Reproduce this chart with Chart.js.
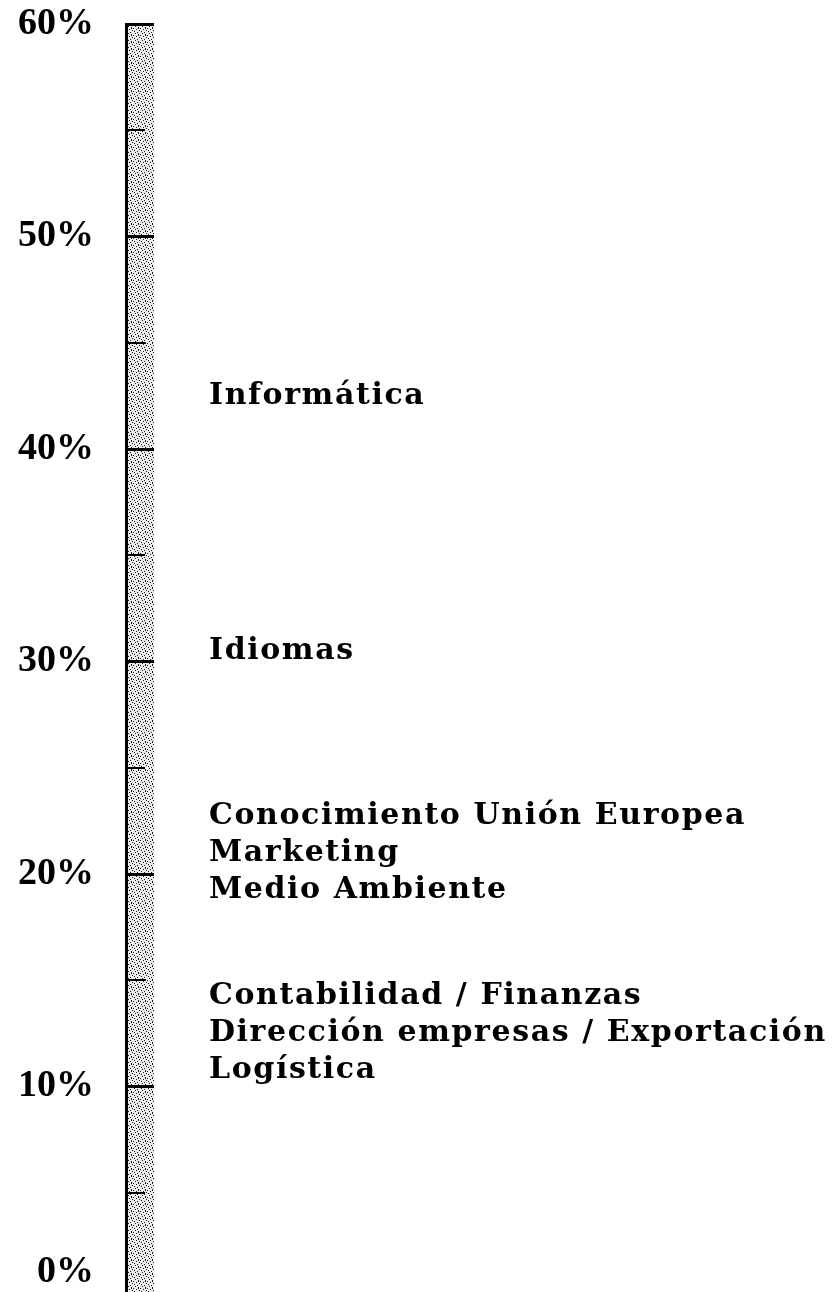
<!DOCTYPE html>
<html>
<head>
<meta charset="utf-8">
<script src="https://cdn.jsdelivr.net/npm/chart.js@4.4.0/dist/chart.umd.min.js"></script>
<style>
  html, body { margin: 0; padding: 0; background: #fff; overflow: hidden; }
  #chart { display: block; }
</style>
</head>
<body>
<canvas id="chart" width="833" height="1299"></canvas>
<script>
// topics and the share (%) they sit at on the scale
const topics = [
  'Informática',
  'Idiomas',
  'Conocimiento Unión Europea',
  'Marketing',
  'Medio Ambiente',
  'Contabilidad / Finanzas',
  'Dirección empresas / Exportación',
  'Logística'
];
const topicShare = [42.5, 30.5, 21, 21, 21, 12.5, 12.5, 12.5];

// the shaded scale strip itself
const stripLabels = [''];
const stripValues = [60];

const scaleMin = 0;
const scaleMax = 60;
const tickStep = 5;

// stippled fill for the strip
function makeStipple() {
  const c = document.createElement('canvas');
  c.width = 7; c.height = 7;
  const g = c.getContext('2d');
  g.fillStyle = '#ececec';
  g.fillRect(0, 0, 7, 7);
  g.fillStyle = '#1a1a1a';
  [[0, 0], [3, 1], [6, 2], [1, 3], [4, 4], [2, 5], [5, 6], [5, 0]].forEach(([x, y]) => g.fillRect(x, y, 1, 1));
  return g.createPattern(c, 'repeat');
}

const topicLabels = {
  id: 'topicLabels',
  afterDraw(chart) {
    const { ctx, chartArea, scales: { y } } = chart;
    ctx.save();
    ctx.font = 'bold 30px "DejaVu Serif"';
    ctx.letterSpacing = '1.6px';
    ctx.fillStyle = '#000';
    ctx.textAlign = 'left';
    ctx.textBaseline = 'middle';
    // topics with the same share are stacked around that value
    const groups = [];
    topics.forEach((t, i) => {
      const g = groups.find(g => g.value === topicShare[i]);
      if (g) g.items.push(t);
      else groups.push({ value: topicShare[i], items: [t] });
    });
    groups.forEach(g => {
      const yc = y.getPixelForValue(g.value);
      g.items.forEach((t, k) => {
        ctx.fillText(t, chartArea.right + 55, yc + (k - (g.items.length - 1) / 2) * 37);
      });
    });
    ctx.restore();
  }
};

new Chart(document.getElementById('chart'), {
  type: 'bar',
  data: {
    labels: stripLabels,
    datasets: [{
      data: stripValues,
      backgroundColor: makeStipple(),
      borderWidth: 0,
      categoryPercentage: 1,
      barPercentage: 1
    }]
  },
  options: {
    responsive: false,
    animation: false,
    layout: { padding: { left: 0, right: 679, top: 24, bottom: 0 } },
    plugins: { legend: { display: false }, tooltip: { enabled: false } },
    scales: {
      x: { display: false },
      y: {
        min: scaleMin,
        max: scaleMax,
        afterFit(scale) {
          scale.width = 126;
          scale.paddingTop = 0;
          scale.paddingBottom = 0;
        },
        ticks: {
          stepSize: tickStep,
          autoSkip: false,
          padding: 32,
          color: '#000',
          font: { family: '"Liberation Serif"', size: 38, weight: 'bold', lineHeight: 1.4 },
          callback: v => {
            if (v % 10 !== 0) return '';
            return v === 0 ? ['0%', ''] : v + '%';
          }
        },
        grid: {
          z: 1,
          drawTicks: false,
          color: '#000',
          lineWidth: ctx => (ctx.tick && ctx.tick.value % 10 === 0) ? 3 : 2
        },
        border: {
          z: 1,
          display: true,
          color: '#000',
          width: 3,
          dash: ctx => (ctx.tick && ctx.tick.value % 10 !== 0) ? [17, 60] : []
        }
      }
    }
  },
  plugins: [topicLabels]
});
</script>
</body>
</html>
